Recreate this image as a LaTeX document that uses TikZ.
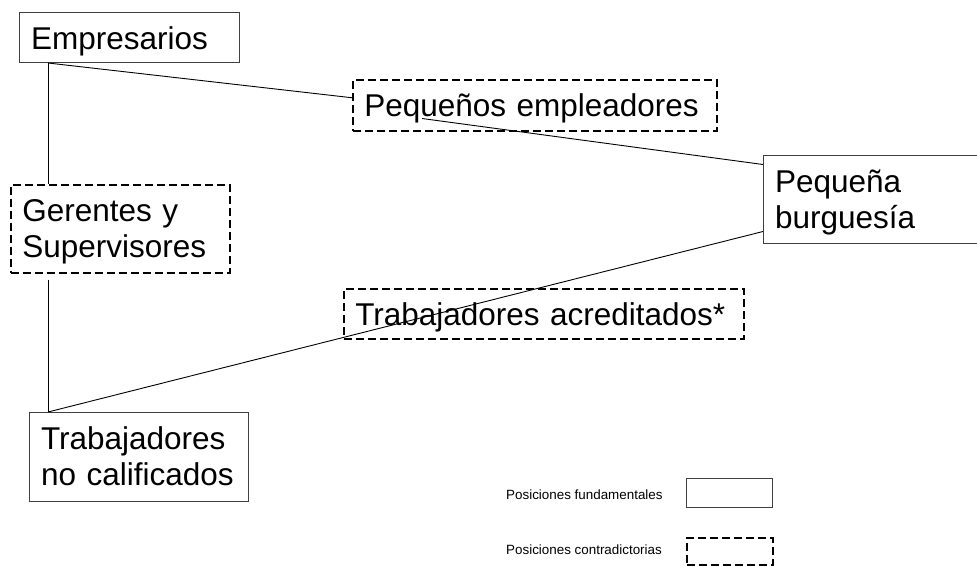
\documentclass[tikz,border=0pt]{standalone}
\usepackage{fontspec}
\setmainfont{Liberation Sans}
\usepackage{tikz}
\usetikzlibrary{positioning}

\begin{document}
\begin{tikzpicture}[x=1pt,y=-1pt,
    caja/.style={anchor=north west,align=left,inner xsep=11.5pt,inner ysep=0pt,
      text height=37pt,font=\fontsize{31.5}{35.5}\selectfont},
    borde/.style={draw=black!75,line width=1pt},
    rayas/.style={draw=black,line width=1.5pt,dash pattern=on 8pt off 4pt},
    fund/.style={caja,borde},
    contr/.style={caja,rayas},
    muestra/.style={anchor=north west,inner sep=0pt,minimum width=86pt,minimum height=29pt},
    ley/.style={anchor=base west,inner sep=0pt,font=\fontsize{13.4}{16}\selectfont},
    linea/.style={draw=black,line width=0.9pt}]
  \useasboundingbox (0,0) rectangle (977,565);
  % posiciones
  \node[fund,text width=197pt,text depth=13pt] (empresarios) at (19,12) {Empresarios};
  \node[contr,text width=341pt,text depth=14pt] (pequenos) at (352,79) {Pequeños empleadores};
  \node[fund,text width=217pt,text depth=51pt] (burguesia) at (763,155) {Pequeña\\burguesía};
  \node[contr,text width=196pt,text depth=51pt] (gerentes) at (10,184) {Gerentes y\\Supervisores};
  \node[contr,text width=377pt,text depth=13pt] (acreditados) at (343,288) {Trabajadores acreditados*};
  \node[fund,text width=196pt,text depth=52pt] (nocalif) at (29,412) {Trabajadores\\no calificados};
  % lineas
  \draw[linea] ([xshift=29pt]empresarios.south west) -- ([xshift=38pt]gerentes.north west);
  \draw[linea] ([xshift=29pt]empresarios.south west) -- ([yshift=7.5pt]pequenos.west);
  \draw[linea] ([xshift=70pt,yshift=13pt]pequenos.south west) -- ([yshift=35pt]burguesia.west);
  \draw[linea] ([xshift=38pt,yshift=-6pt]gerentes.south west) -- ([xshift=19pt]nocalif.north west);
  \draw[linea] ([xshift=19pt]nocalif.north west) -- ([yshift=-32pt]burguesia.west);
  % leyenda
  \node[muestra,borde] (leyfund) at (686,478) {};
  \node[muestra,rayas,minimum height=27pt] (leycontr) at (686,537) {};
  \node[ley] (txtfund) at (506,499) {Posiciones fundamentales};
  \node[ley] (txtcontr) at (506,554) {Posiciones contradictorias};
\end{tikzpicture}
\end{document}
